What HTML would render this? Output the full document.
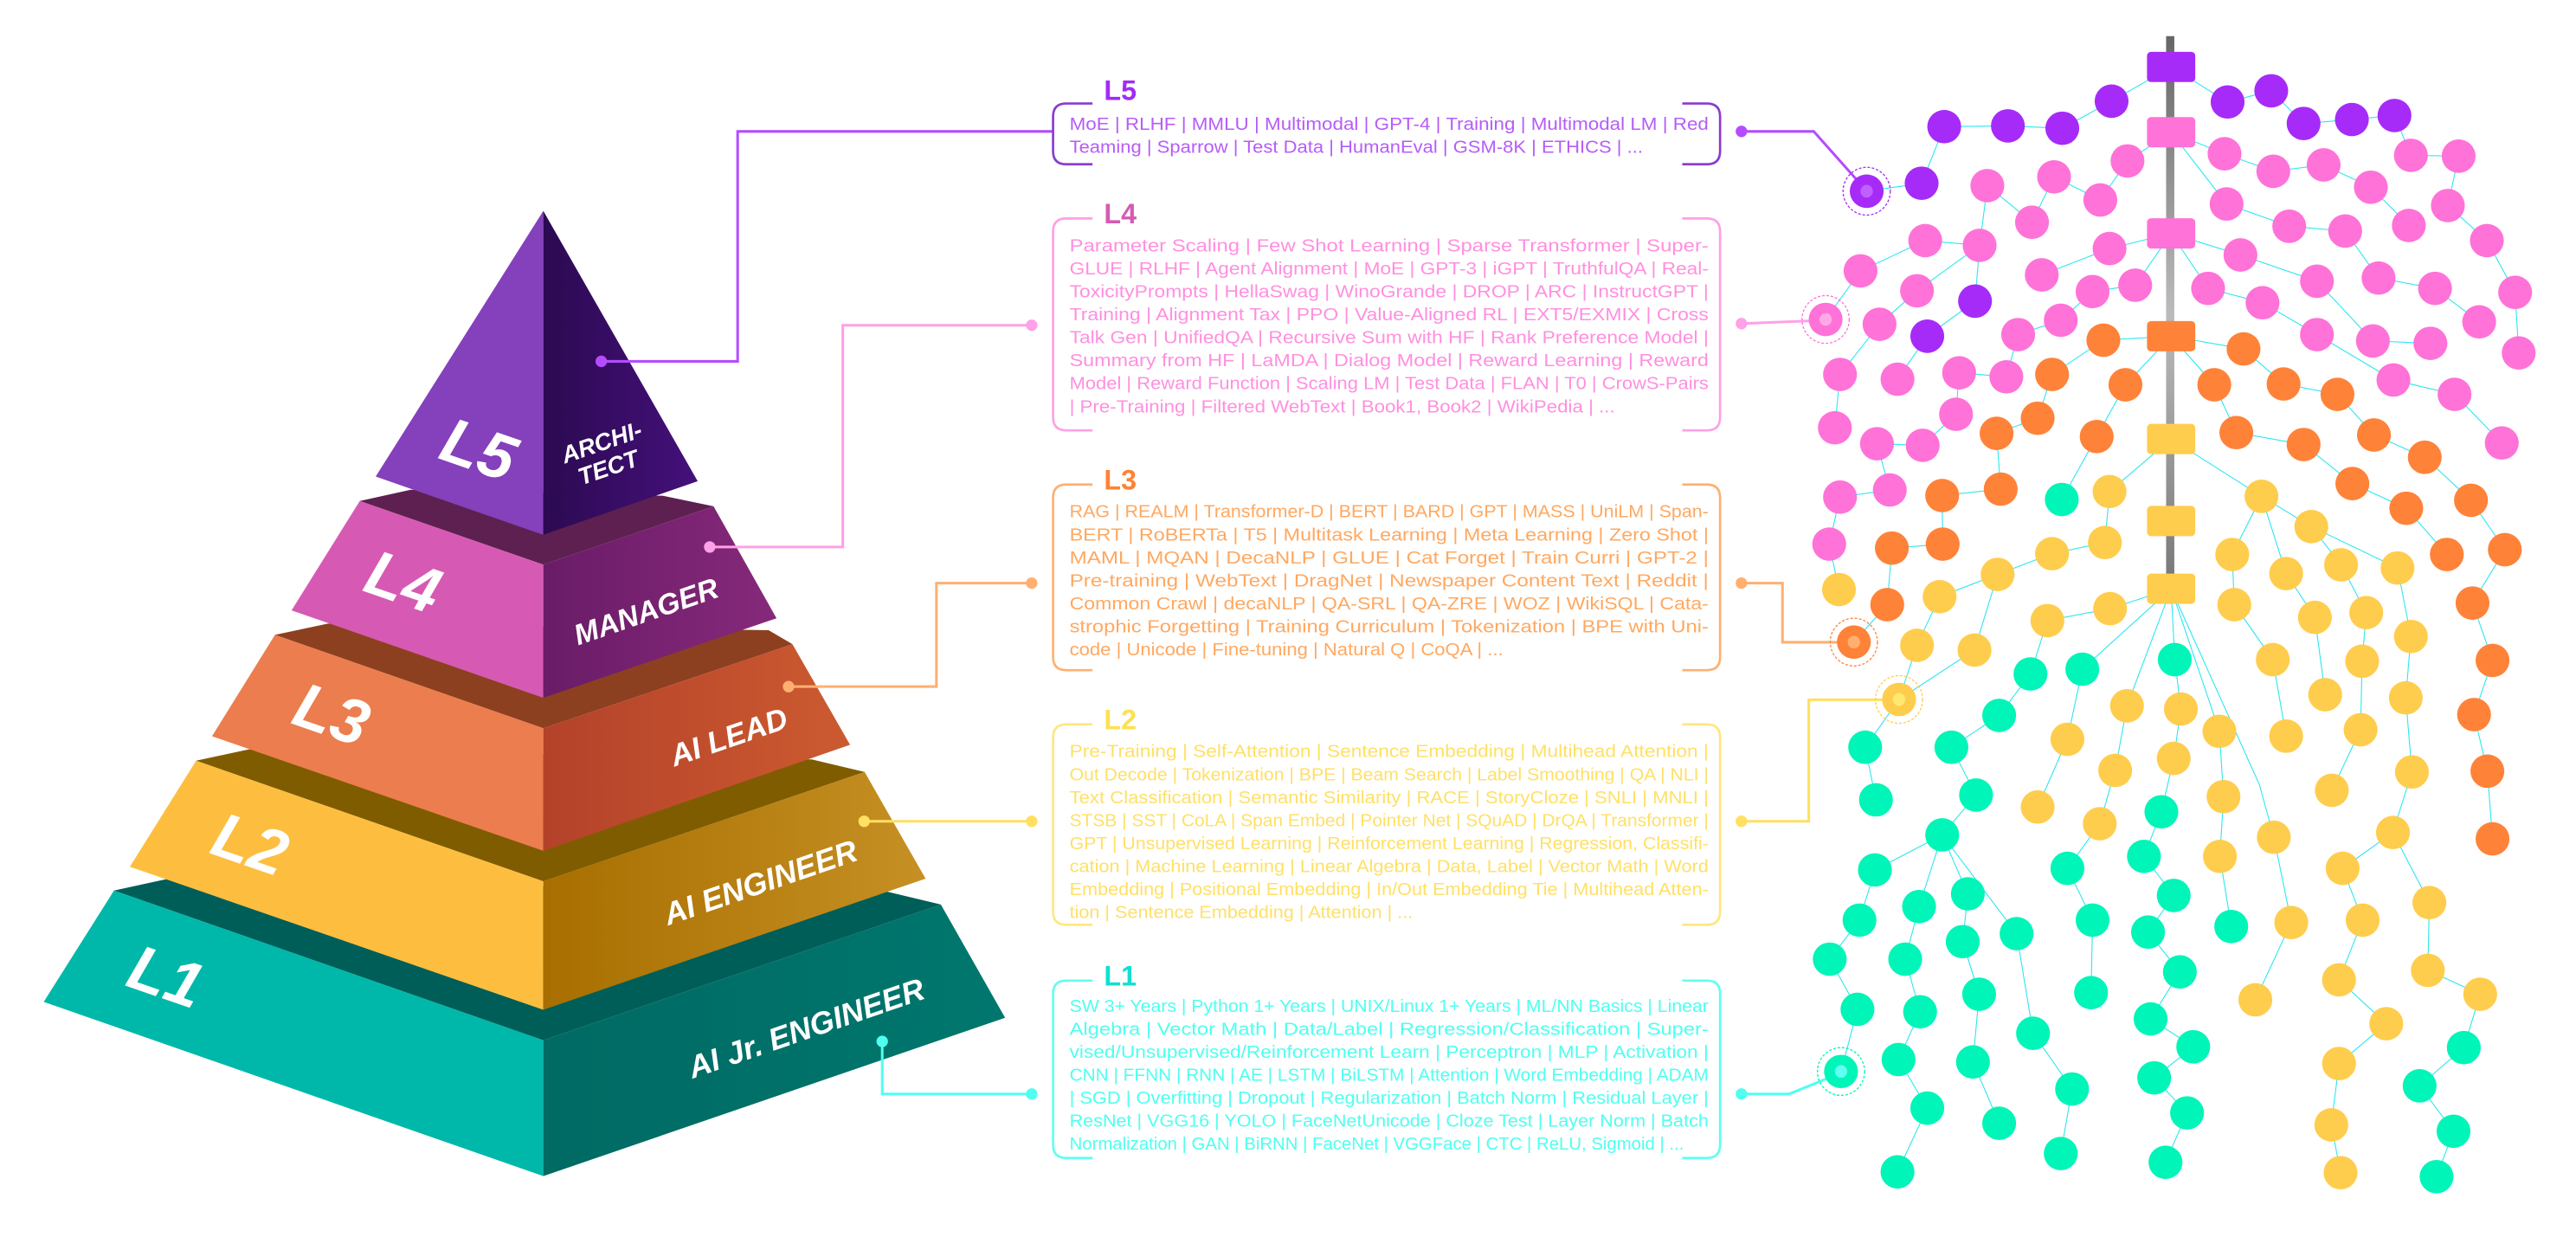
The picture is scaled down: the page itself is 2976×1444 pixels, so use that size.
<!DOCTYPE html>
<html><head><meta charset="utf-8"><style>
html,body{margin:0;padding:0;background:#fff;width:2976px;height:1444px;overflow:hidden}
svg{display:block}
.t{font-family:"Liberation Sans Narrow","Liberation Sans",sans-serif;font-size:10.6px}
.lbl{font-family:"Liberation Sans",sans-serif;font-weight:bold;font-size:17px}
.pl{font-family:"Liberation Sans",sans-serif;font-weight:bold;font-style:italic;fill:#fff}
</style></head><body>
<svg id="s" width="2976" height="1444" viewBox="0 0 1568 761" preserveAspectRatio="none" xmlns="http://www.w3.org/2000/svg">
<defs>
<linearGradient id="g5" x1="0" x2="1"><stop offset="0" stop-color="#2c0a52"/><stop offset="1" stop-color="#44107a"/></linearGradient>
<linearGradient id="g4" x1="0" x2="1"><stop offset="0" stop-color="#6a1c68"/><stop offset="1" stop-color="#86297a"/></linearGradient>
<linearGradient id="g3" x1="0" x2="1"><stop offset="0" stop-color="#b4422a"/><stop offset="1" stop-color="#cc5a30"/></linearGradient>
<linearGradient id="g2" x1="0" x2="1"><stop offset="0" stop-color="#a86e00"/><stop offset="1" stop-color="#c69024"/></linearGradient>
<linearGradient id="g1" x1="0" x2="1"><stop offset="0" stop-color="#006a63"/><stop offset="1" stop-color="#00776e"/></linearGradient>
<linearGradient id="sp" x1="0" y1="0" x2="0" y2="1"><stop offset="0" stop-color="#666"/><stop offset="0.5" stop-color="#bbb"/><stop offset="1" stop-color="#777"/></linearGradient>
</defs>

<g transform="translate(0,105.4) scale(0.4033)">
<polygon points="172,1083 250,1066 1340,1085 1420,1104 820,1309" fill="#005e58"/>
<polygon points="172,1083 820,1309 820,1514 66,1251" fill="#00b8a9"/>
<polygon points="820,1309 1420,1104 1517,1275 820,1514" fill="url(#g1)"/>
<polygon points="296,887 375,870 1225,885 1305,904 820,1069" fill="#7f5c00"/>
<polygon points="296,887 820,1069 820,1263 196,1047" fill="#fdbe40"/>
<polygon points="820,1069 1305,904 1397,1065 820,1263" fill="url(#g2)"/>
<polygon points="415,697 495,680 1160,690 1196,711 820,838" fill="#8c4020"/>
<polygon points="415,697 820,838 820,1023 320,850" fill="#ec7d4e"/>
<polygon points="820,838 1196,711 1283,863 820,1023" fill="url(#g3)"/>
<polygon points="543,495 620,478 1000,487 1077,503 820,591" fill="#5e2050"/>
<polygon points="543,495 820,591 820,792 440,660" fill="#d65ab3"/>
<polygon points="820,591 1077,503 1172,672 820,792" fill="url(#g4)"/>
<polygon points="820,57 820,546 567,458" fill="#8540bc"/>
<polygon points="820,57 1053,465 820,546" fill="url(#g5)"/>
<text class="pl" font-size="96" transform="translate(712,448) rotate(19)" text-anchor="middle">L5</text>
<text class="pl" font-size="96" transform="translate(598,648) rotate(19)" text-anchor="middle">L4</text>
<text class="pl" font-size="96" transform="translate(490,848) rotate(19)" text-anchor="middle">L3</text>
<text class="pl" font-size="96" transform="translate(367,1044) rotate(19)" text-anchor="middle">L2</text>
<text class="pl" font-size="96" transform="translate(240,1244) rotate(19)" text-anchor="middle">L1</text>
<text class="pl" font-size="36" transform="translate(912,418) rotate(-19)" text-anchor="middle">ARCHI-</text>
<text class="pl" font-size="36" transform="translate(922,456) rotate(-19)" text-anchor="middle">TECT</text>
<text class="pl" font-size="44" transform="translate(980,676) rotate(-19)" text-anchor="middle">MANAGER</text>
<text class="pl" font-size="46" transform="translate(1105,866) rotate(-19)" text-anchor="middle">AI LEAD</text>
<text class="pl" font-size="47" transform="translate(1153,1086) rotate(-19)" text-anchor="middle">AI ENGINEER</text>
<text class="pl" font-size="47" transform="translate(1222,1306) rotate(-19)" text-anchor="middle">AI Jr. ENGINEER</text>
</g>

<g fill="none" stroke-width="1.6">
<polyline points="366,220 449,220 449,80 641,80" stroke="#b44cff"/>
<polyline points="432,333 513,333 513,198 628,198" stroke="#ffa0e8"/>
<polyline points="480,418 570,418 570,355 628,355" stroke="#ffb070"/>
<polyline points="526,500 628,500" stroke="#ffe060"/>
<polyline points="537,634 537,666 628,666" stroke="#50fff0"/>
<polyline points="1060,80 1104,80 1136,116" stroke="#b44cff"/>
<polyline points="1060,197 1111,195" stroke="#ffa0e8"/>
<polyline points="1060,355 1085,355 1085,391 1128,391" stroke="#ffb070"/>
<polyline points="1060,500 1101,500 1101,426 1156,426" stroke="#ffe060"/>
<polyline points="1060,666 1089,666 1121,653" stroke="#50fff0"/>
</g>
<g>
<circle cx="366" cy="220" r="3.5" fill="#b44cff"/>
<circle cx="432" cy="333" r="3.5" fill="#ffa0e8"/><circle cx="628" cy="198" r="3.5" fill="#ffa0e8"/><circle cx="1060" cy="197" r="3.5" fill="#ffa0e8"/>
<circle cx="480" cy="418" r="3.5" fill="#ffb070"/><circle cx="628" cy="355" r="3.5" fill="#ffb070"/><circle cx="1060" cy="355" r="3.5" fill="#ffb070"/>
<circle cx="526" cy="500" r="3.5" fill="#ffe060"/><circle cx="628" cy="500" r="3.5" fill="#ffe060"/><circle cx="1060" cy="500" r="3.5" fill="#ffe060"/>
<circle cx="537" cy="634" r="3.5" fill="#50fff0"/><circle cx="628" cy="666" r="3.5" fill="#50fff0"/><circle cx="1060" cy="666" r="3.5" fill="#50fff0"/>
<circle cx="1060" cy="80" r="3.5" fill="#b44cff"/>
</g>

<g fill="none" stroke-width="1.4">
<path d="M665 63H649Q641 63 641 71V92Q641 100 649 100H665M1024 63H1039Q1047 63 1047 71V92Q1047 100 1039 100H1024" stroke="#8b3bd0"/>
<path d="M665 133H649Q641 133 641 141V254Q641 262 649 262H665M1024 133H1039Q1047 133 1047 141V254Q1047 262 1039 262H1024" stroke="#ffa0e6"/>
<path d="M665 295H649Q641 295 641 303V400Q641 408 649 408H665M1024 295H1039Q1047 295 1047 303V400Q1047 408 1039 408H1024" stroke="#ffb070"/>
<path d="M665 441H649Q641 441 641 449V555Q641 563 649 563H665M1024 441H1039Q1047 441 1047 449V555Q1047 563 1039 563H1024" stroke="#ffe680"/>
<path d="M665 597H649Q641 597 641 605V697Q641 705 649 705H665M1024 597H1039Q1047 597 1047 605V697Q1047 705 1039 705H1024" stroke="#60fff0"/>
</g>
<text class="lbl" x="672" y="61" fill="#a22bf5">L5</text>
<text class="lbl" x="672" y="136" fill="#d65ab3">L4</text>
<text class="lbl" x="672" y="298" fill="#ff8235">L3</text>
<text class="lbl" x="672" y="444" fill="#ffe050">L2</text>
<text class="lbl" x="672" y="600" fill="#10e0d0">L1</text>

<g class="t" fill="#b65cf8">
<text x="651" y="79" textLength="389" lengthAdjust="spacingAndGlyphs">MoE | RLHF | MMLU | Multimodal | GPT-4 | Training | Multimodal LM | Red</text>
<text x="651" y="93" textLength="349" lengthAdjust="spacingAndGlyphs">Teaming | Sparrow | Test Data | HumanEval | GSM-8K | ETHICS | ...</text>
</g>
<g class="t" fill="#ff8fe0">
<text x="651" y="153" textLength="389" lengthAdjust="spacingAndGlyphs">Parameter Scaling | Few Shot Learning | Sparse Transformer | Super-</text>
<text x="651" y="167" textLength="389" lengthAdjust="spacingAndGlyphs">GLUE | RLHF | Agent Alignment | MoE | GPT-3 | iGPT | TruthfulQA | Real-</text>
<text x="651" y="181" textLength="389" lengthAdjust="spacingAndGlyphs">ToxicityPrompts | HellaSwag | WinoGrande | DROP | ARC | InstructGPT |</text>
<text x="651" y="195" textLength="389" lengthAdjust="spacingAndGlyphs">Training | Alignment Tax | PPO | Value-Aligned RL | EXT5/EXMIX | Cross</text>
<text x="651" y="209" textLength="389" lengthAdjust="spacingAndGlyphs">Talk Gen | UnifiedQA | Recursive Sum with HF | Rank Preference Model |</text>
<text x="651" y="223" textLength="389" lengthAdjust="spacingAndGlyphs">Summary from HF | LaMDA | Dialog Model | Reward Learning | Reward</text>
<text x="651" y="237" textLength="389" lengthAdjust="spacingAndGlyphs">Model | Reward Function | Scaling LM | Test Data | FLAN | T0 | CrowS-Pairs</text>
<text x="651" y="251" textLength="332" lengthAdjust="spacingAndGlyphs">| Pre-Training | Filtered WebText | Book1, Book2 | WikiPedia | ...</text>
</g>
<g class="t" fill="#ffa860">
<text x="651" y="315" textLength="389" lengthAdjust="spacingAndGlyphs">RAG | REALM | Transformer-D | BERT | BARD | GPT | MASS | UniLM | Span-</text>
<text x="651" y="329" textLength="389" lengthAdjust="spacingAndGlyphs">BERT | RoBERTa | T5 | Multitask Learning | Meta Learning | Zero Shot |</text>
<text x="651" y="343" textLength="389" lengthAdjust="spacingAndGlyphs">MAML | MQAN | DecaNLP | GLUE | Cat Forget | Train Curri | GPT-2 |</text>
<text x="651" y="357" textLength="389" lengthAdjust="spacingAndGlyphs">Pre-training | WebText | DragNet | Newspaper Content Text | Reddit |</text>
<text x="651" y="371" textLength="389" lengthAdjust="spacingAndGlyphs">Common Crawl | decaNLP | QA-SRL | QA-ZRE | WOZ | WikiSQL | Cata-</text>
<text x="651" y="385" textLength="389" lengthAdjust="spacingAndGlyphs">strophic Forgetting | Training Curriculum | Tokenization | BPE with Uni-</text>
<text x="651" y="399" textLength="264" lengthAdjust="spacingAndGlyphs">code | Unicode | Fine-tuning | Natural Q | CoQA | ...</text>
</g>
<g class="t" fill="#ffe066">
<text x="651" y="461" textLength="389" lengthAdjust="spacingAndGlyphs">Pre-Training | Self-Attention | Sentence Embedding | Multihead Attention |</text>
<text x="651" y="475" textLength="389" lengthAdjust="spacingAndGlyphs">Out Decode | Tokenization | BPE | Beam Search | Label Smoothing | QA | NLI |</text>
<text x="651" y="489" textLength="389" lengthAdjust="spacingAndGlyphs">Text Classification | Semantic Similarity | RACE | StoryCloze | SNLI | MNLI |</text>
<text x="651" y="503" textLength="389" lengthAdjust="spacingAndGlyphs">STSB | SST | CoLA | Span Embed | Pointer Net | SQuAD | DrQA | Transformer |</text>
<text x="651" y="517" textLength="389" lengthAdjust="spacingAndGlyphs">GPT | Unsupervised Learning | Reinforcement Learning | Regression, Classifi-</text>
<text x="651" y="531" textLength="389" lengthAdjust="spacingAndGlyphs">cation | Machine Learning | Linear Algebra | Data, Label | Vector Math | Word</text>
<text x="651" y="545" textLength="389" lengthAdjust="spacingAndGlyphs">Embedding | Positional Embedding | In/Out Embedding Tie | Multihead Atten-</text>
<text x="651" y="559" textLength="209" lengthAdjust="spacingAndGlyphs">tion | Sentence Embedding | Attention | ...</text>
</g>
<g class="t" fill="#4ffff0">
<text x="651" y="616" textLength="389" lengthAdjust="spacingAndGlyphs">SW 3+ Years | Python 1+ Years | UNIX/Linux 1+ Years | ML/NN Basics | Linear</text>
<text x="651" y="630" textLength="389" lengthAdjust="spacingAndGlyphs">Algebra | Vector Math | Data/Label | Regression/Classification | Super-</text>
<text x="651" y="644" textLength="389" lengthAdjust="spacingAndGlyphs">vised/Unsupervised/Reinforcement Learn | Perceptron | MLP | Activation |</text>
<text x="651" y="658" textLength="389" lengthAdjust="spacingAndGlyphs">CNN | FFNN | RNN | AE | LSTM | BiLSTM | Attention | Word Embedding | ADAM</text>
<text x="651" y="672" textLength="389" lengthAdjust="spacingAndGlyphs">| SGD | Overfitting | Dropout | Regularization | Batch Norm | Residual Layer |</text>
<text x="651" y="686" textLength="389" lengthAdjust="spacingAndGlyphs">ResNet | VGG16 | YOLO | FaceNetUnicode | Cloze Test | Layer Norm | Batch</text>
<text x="651" y="700" textLength="374" lengthAdjust="spacingAndGlyphs">Normalization | GAN | BiRNN | FaceNet | VGGFace | CTC | ReLU, Sigmoid | ...</text>
</g>

<rect x="1318.5" y="22" width="5" height="337" fill="url(#sp)"/>
<g id="tree" transform="translate(1080,0) scale(0.3125,0.485)"></g>
</svg>
<script>
(function(){
var NS="http://www.w3.org/2000/svg",g=document.getElementById("tree");
var C={P:"#a62bf8",K:"#ff72d8",O:"#ff8239",Y:"#ffcd4d",G:"#00f5b8"};
var E=[
[773,84,657,127],[657,127,561,161],[561,161,455,158],[455,158,331,159],[331,159,287,230],[287,230,180,240],[773,84,883,128],[883,128,968,114],[968,114,1031,155],[1031,155,1125,150],[1125,150,1208,145],
[773,166,688,202],[688,202,635,251],[635,251,545,222],[545,222,502,279],[502,279,415,233],[415,233,400,308],[400,308,391,378],[400,308,294,302],[294,302,168,340],[168,340,100,401],[400,308,278,365],[278,365,205,407],[205,407,128,470],[128,470,118,537],[391,378,298,422],[298,422,240,476],[360,468,452,473],[360,468,354,520],[354,520,289,559],[289,559,200,557],[200,557,225,615],[225,615,128,624],[128,624,107,683],[107,683,126,740],
[773,293,653,312],[653,312,521,345],[773,293,703,358],[703,358,620,366],[620,366,558,402],[558,402,475,420],[475,420,452,473],
[773,166,877,193],[877,193,972,215],[972,215,1070,207],[1070,207,1162,235],[1162,235,1236,283],[1208,145,1240,195],[1240,195,1333,196],[1333,196,1312,258],[1312,258,1388,302],[1388,302,1443,367],[1443,367,1450,443],
[773,166,881,256],[881,256,1003,284],[1003,284,1112,290],[1112,290,1177,349],[1177,349,1287,362],[1287,362,1373,404],
[773,293,908,320],[908,320,1057,353],[1057,353,1166,428],[1166,428,1278,431],[773,293,845,362],[845,362,951,380],[951,380,1057,420],[1057,420,1206,477],[1206,477,1325,495],[1325,495,1417,556],
[773,422,641,427],[641,427,541,470],[541,470,513,525],[513,525,433,544],[433,544,441,614],[441,614,327,622],[327,622,328,683],[328,683,229,688],[229,688,220,759],[220,759,155,806],
[773,422,684,483],[684,483,628,548],[628,548,560,627],[773,422,914,438],[914,438,992,482],[992,482,1097,495],[1097,495,1168,546],[1168,546,1267,574],[1267,574,1357,628],[1357,628,1423,690],[1423,690,1360,757],[1360,757,1399,829],[1399,829,1363,897],[1363,897,1389,968],[1389,968,1399,1053],
[773,422,857,483],[857,483,900,543],[900,543,1031,558],[1031,558,1126,607],[1126,607,1231,638],[1231,638,1310,696],
[773,551,653,617],[653,617,644,681],[644,681,541,695],[541,695,435,721],[435,721,322,749],[322,749,278,810],[278,810,243,878],[435,721,390,816],[390,816,243,878],
[773,551,949,623],[949,623,1046,661],[1046,661,1104,709],[949,623,892,696],[892,696,896,759],[896,759,971,828],[971,828,997,924],[949,623,997,720],[997,720,1053,775],[1053,775,1073,872],[1104,709,1153,769],[1153,769,1145,830],[1145,830,1142,916],[1142,916,1086,992],[1046,661,1214,713],[1214,713,1240,799],[1240,799,1230,876],[1230,876,1242,969],[1242,969,1205,1045],[1205,1045,1107,1090],[1107,1090,1146,1155],[1146,1155,1100,1230],[1100,1230,1192,1285],[1192,1285,1100,1335],[1100,1335,1085,1412],[1085,1412,1103,1472],[1205,1045,1276,1133],[1276,1133,1273,1218],[1273,1218,1375,1248],
[773,739,654,764],[654,764,532,779],[532,779,499,846],[773,739,600,840],[773,739,687,886],[687,886,664,967],[664,967,634,1034],[634,1034,571,1090],[773,739,780,828],[780,828,792,890],[792,890,778,952],[778,952,754,1019],[773,739,867,918],[867,918,875,1000],[875,1000,868,1075],[868,1075,890,1163],[773,739,945,985],[945,985,973,1051],[973,1051,1007,1158],[1007,1158,937,1255],[600,840,571,928],[571,928,513,1013],
[499,846,438,898],[438,898,345,938],[345,938,393,998],[393,998,327,1048],[327,1048,196,1092],[196,1092,166,1155],[166,1155,108,1204],[108,1204,162,1267],[162,1267,130,1345],[327,1048,282,1138],[282,1138,255,1204],[255,1204,284,1270],[284,1270,242,1330],[242,1330,298,1391],[298,1391,240,1471],[327,1048,377,1122],[377,1122,367,1182],[367,1182,399,1248],[399,1248,387,1333],[387,1333,438,1410],[327,1048,472,1172],[472,1172,504,1297],[504,1297,580,1367],[580,1367,558,1448],[243,878,177,938],[177,938,198,1004],
[754,1019,720,1075],[720,1075,778,1124],[778,1124,728,1170],[728,1170,790,1220],[790,1220,733,1279],[733,1279,816,1314],[816,1314,740,1353],[740,1353,804,1397],[804,1397,762,1459],[571,1090,620,1155],[620,1155,617,1246],[1375,1248,1343,1315],[1343,1315,1257,1363],[1257,1363,1323,1420],[1323,1420,1290,1477]
];
E.forEach(function(e){var l=document.createElementNS(NS,"line");l.setAttribute("x1",e[0]);l.setAttribute("y1",e[1]);l.setAttribute("x2",e[2]);l.setAttribute("y2",e[3]);l.setAttribute("stroke","#2ee6f0");l.setAttribute("stroke-width","1.1");l.setAttribute("vector-effect","non-scaling-stroke");g.appendChild(l);});
var N={
P:[331,159,455,158,561,161,657,127,883,128,968,114,1031,155,1125,150,1208,145,287,230,180,240,391,378,298,422],
K:[688,202,635,251,545,222,502,279,415,233,400,308,294,302,168,340,278,365,205,407,100,401,128,470,118,537,240,476,360,468,452,473,354,520,200,557,289,559,128,624,225,615,107,683,521,345,653,312,620,366,703,358,558,402,475,420,877,193,972,215,1070,207,1162,235,1240,195,1333,196,1312,258,1236,283,881,256,1003,284,1112,290,1177,349,1287,362,1388,302,1443,367,1373,404,1450,443,908,320,845,362,951,380,1057,353,1057,420,1166,428,1278,431,1206,477,1325,495,1417,556],
O:[641,427,541,470,513,525,433,544,441,614,327,622,328,683,229,688,220,759,155,806,684,483,628,548,914,438,857,483,900,543,992,482,1097,495,1168,546,1267,574,1357,628,1423,690,1360,757,1399,829,1363,897,1389,968,1399,1053,1031,558,1126,607,1231,638,1310,696],
Y:[126,740,653,617,644,681,541,695,435,721,322,749,278,810,390,816,243,878,532,779,654,764,949,623,1046,661,892,696,896,759,997,720,1104,709,1214,713,1053,775,1153,769,1240,799,971,828,1145,830,1073,872,1230,876,997,924,1142,916,1086,992,1242,969,1205,1045,687,886,792,890,571,928,664,967,778,952,867,918,513,1013,634,1034,875,1000,868,1075,973,1051,1007,1158,937,1255,1107,1090,1146,1155,1100,1230,1276,1133,1273,1218,1375,1248,1192,1285,1100,1335,1085,1412,1103,1472],
G:[560,627,499,846,438,898,345,938,393,998,327,1048,177,938,198,1004,600,840,754,1019,720,1075,778,1124,728,1170,790,1220,733,1279,816,1314,740,1353,804,1397,762,1459,780,828,571,1090,620,1155,617,1246,890,1163,196,1092,166,1155,108,1204,162,1267,130,1345,282,1138,255,1204,284,1270,242,1330,298,1391,240,1471,377,1122,367,1182,399,1248,387,1333,438,1410,472,1172,504,1297,580,1367,558,1448,1343,1315,1257,1363,1323,1420,1290,1477]
};
function el(n,a){var e=document.createElementNS(NS,n);for(var k in a)e.setAttribute(k,a[k]);g.appendChild(e);return e;}
for(var c in N){var a=N[c];for(var i=0;i<a.length;i+=2){el("ellipse",{cx:a[i],cy:a[i+1],rx:33,ry:21,fill:C[c]});}}
var R=[[84,"#a62bf8"],[166,"#ff72d8"],[293,"#ff72d8"],[422,"#ff8239"],[551,"#ffcd4d"],[654,"#ffcd4d"],[739,"#ffcd4d"]];
R.forEach(function(r){el("rect",{x:726,y:r[0]-19,width:94,height:38,rx:8,ry:5,fill:r[1]});});
var H=[[180,240,"#a62bf8","#c060ff"],[100,401,"#ff72d8","#ffa8e8"],[155,806,"#ff8239","#ffb070"],[243,878,"#ffcd4d","#ffe870"],[130,1345,"#00f5b8","#60fff0"]];
H.forEach(function(h){el("ellipse",{cx:h[0],cy:h[1],rx:46,ry:30,fill:"none",stroke:h[2],"stroke-width":1.3,"stroke-dasharray":"3 2","vector-effect":"non-scaling-stroke"});el("ellipse",{cx:h[0],cy:h[1],rx:12,ry:8,fill:h[3]});});
})();
</script>
</body></html>
